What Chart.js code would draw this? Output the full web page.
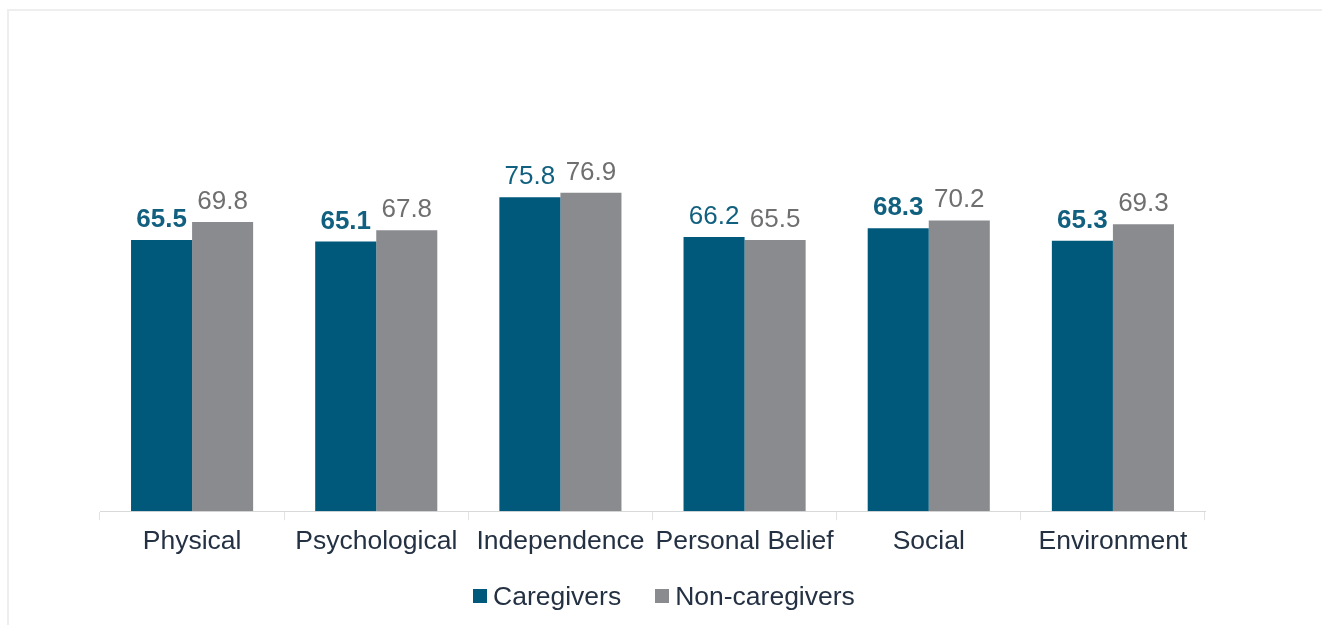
<!DOCTYPE html>
<html>
<head>
<meta charset="utf-8">
<script src="https://cdn.jsdelivr.net/npm/chart.js@4"></script>
<style>
  html, body { margin: 0; padding: 0; background: #fff; overflow: hidden; }
  #wrap { position: relative; width: 1322px; height: 625px; }
  #frame { position: absolute; left: 7px; top: 9px; width: 1400px; height: 700px;
           border-left: 2px solid #eeeeee; border-top: 2px solid #eeeeee; }
  #chart { position: absolute; left: 0; top: 0; }
  #legend { position: absolute; left: 473px; top: 580px; display: flex; align-items: center;
            font-family: "Liberation Sans", Arial, sans-serif; font-size: 26.5px; line-height: 32px; color: #243143; }
  #legend .item { display: flex; align-items: center; margin-right: 34px; }
  #legend .box { width: 14px; height: 14px; margin-right: 6px; }
</style>
</head>
<body>
<div id="wrap">
  <div id="frame"></div>
  <canvas id="chart" width="1322" height="625"></canvas>
  <div id="legend"></div>
</div>
<script>
const categories = ['Physical', 'Psychological', 'Independence', 'Personal Belief', 'Social', 'Environment'];
const caregivers = [65.5, 65.1, 75.8, 66.2, 68.3, 65.3];
const nonCaregivers = [69.8, 67.8, 76.9, 65.5, 70.2, 69.3];
const seriesNames = ['Caregivers', 'Non-caregivers'];

// caregiver value labels that are printed in bold in the original
const boldCaregiverLabels = [true, true, false, false, true, true];

const barColors = ['#00587a', '#8a8b8f'];
const labelColors = ['#12607f', '#6f6f6f'];
const fontFamily = '"Liberation Sans", Arial, sans-serif';

const valueLabels = {
  id: 'valueLabels',
  afterDatasetsDraw(chart) {
    const ctx = chart.ctx;
    ctx.save();
    ctx.textAlign = 'center';
    ctx.textBaseline = 'alphabetic';
    chart.data.datasets.forEach((ds, di) => {
      const meta = chart.getDatasetMeta(di);
      meta.data.forEach((bar, i) => {
        const bold = di === 0 && boldCaregiverLabels[i];
        ctx.font = (bold ? 'bold ' : '') + '26px ' + fontFamily;
        ctx.fillStyle = labelColors[di];
        ctx.fillText(ds.data[i].toFixed(1), bar.x, bar.y - 13);
      });
    });
    ctx.restore();
  }
};

const chartEl = document.getElementById('chart');

const chart = new Chart(chartEl, {
  type: 'bar',
  data: {
    labels: categories,
    datasets: [
      { label: seriesNames[0], data: caregivers, backgroundColor: barColors[0], borderWidth: 0 },
      { label: seriesNames[1], data: nonCaregivers, backgroundColor: barColors[1], borderWidth: 0 }
    ]
  },
  options: {
    responsive: false,
    animation: false,
    categoryPercentage: 0.663,
    barPercentage: 1,
    layout: { padding: { left: 100, right: 117, top: 97, bottom: 61 } },
    plugins: {
      legend: { display: false },
      tooltip: { enabled: false }
    },
    scales: {
      y: { display: false, min: 0, max: 100 },
      x: {
        grid: { offset: true, drawOnChartArea: false, drawTicks: true, tickLength: 9, color: '#e3e3e3' },
        border: { display: true, color: '#d9d9d9', width: 1 },
        ticks: {
          color: '#243143', padding: 6, autoSkip: false, maxRotation: 0, minRotation: 0,
          font: { family: fontFamily, size: 26.5 }
        }
      }
    }
  },
  plugins: [valueLabels]
});

// legend drawn as html so the box/text spacing matches
const legendEl = document.getElementById('legend');
seriesNames.forEach((name, i) => {
  const item = document.createElement('div');
  item.className = 'item';
  const box = document.createElement('span');
  box.className = 'box';
  box.style.background = barColors[i];
  item.appendChild(box);
  item.appendChild(document.createTextNode(name));
  legendEl.appendChild(item);
});
</script>
</body>
</html>
